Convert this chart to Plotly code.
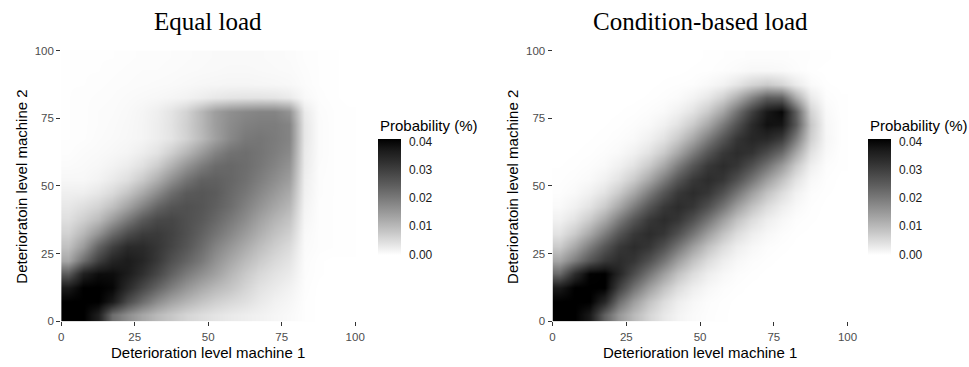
import plotly.graph_objects as go

# Grid cell centres (deterioration level, both machines)
levels = [2.5, 7.5, 12.5, 17.5, 22.5, 27.5, 32.5, 37.5, 42.5, 47.5,
          52.5, 57.5, 62.5, 67.5, 72.5, 77.5, 82.5, 87.5, 92.5, 97.5]
tick_vals = [0, 25, 50, 75, 100]
prob_ticks = [0.0, 0.01, 0.02, 0.03, 0.04]
prob_labels = ["0.00", "0.01", "0.02", "0.03", "0.04"]

# Probability (%), in units of 1e-3; each row is one level of machine 2 (bottom to top)
equal_load = [
    [41, 41, 36, 22, 17, 13, 10, 8, 6, 4.8, 3.8, 3, 2.4, 1.9, 1.3, 0.8, 0.2, 0, 0, 0],
    [41, 41, 41, 37, 28, 22, 17, 13.5, 10.8, 8.5, 6.8, 5.5, 4.4, 3, 1.9, 1.2, 0.2, 0, 0, 0],
    [37, 41, 41, 40, 34, 28.5, 23.5, 19.3, 15.5, 12.5, 10.2, 8.4, 6.1, 4.1, 2.9, 1.8, 0.3, 0, 0, 0],
    [25, 36, 39, 39, 36.8, 32.9, 28.6, 24, 19.9, 16.7, 13.9, 10.6, 7.8, 5.6, 4, 2.8, 0.4, 0.1, 0, 0],
    [13, 22, 30, 35, 36.8, 34.8, 31.2, 27, 23.6, 20.2, 16.3, 12.9, 9.9, 7.5, 5.4, 3.8, 0.5, 0.1, 0, 0],
    [9, 15, 23.8, 29.9, 33.9, 33.9, 31.6, 29, 26, 22.4, 18.6, 15.4, 12.3, 9.5, 7.1, 5.1, 0.7, 0.3, 0.2, 0.2],
    [6.5, 10.5, 16.1, 22.4, 27.6, 30.6, 31, 29.4, 27, 24, 21, 17.9, 14.7, 11.7, 8.9, 6.7, 0.9, 0.3, 0.2, 0.2],
    [4.5, 6.9, 9.8, 14.8, 20.2, 25.3, 28.4, 28.8, 27.1, 25.4, 23, 20.1, 17.1, 13.8, 10.9, 8.5, 1.3, 0.3, 0.2, 0.2],
    [3.3, 4.6, 6.3, 9.2, 13.6, 18.7, 23.5, 26.2, 27, 26.1, 24.3, 22, 18.9, 16, 13.1, 10.5, 1.6, 0.3, 0.2, 0.2],
    [2.2, 2.3, 3.4, 5.2, 8.3, 12.5, 17.4, 22, 25.2, 25.9, 25, 22.7, 20.5, 17.9, 15.2, 12.4, 2, 0.4, 0.2, 0.2],
    [1.1, 1.1, 1.7, 2.9, 4.5, 7.6, 11.8, 16.6, 21, 24, 24.2, 23.2, 21.6, 19.4, 17, 14.4, 2.3, 0.4, 0.2, 0.2],
    [0.6, 0.8, 1.1, 1.7, 2.6, 4.3, 7.2, 11.3, 15.9, 19.7, 22.4, 23, 22.1, 20.5, 18.5, 16.1, 2.8, 0.5, 0.2, 0.2],
    [0.3, 0.6, 0.8, 1.1, 1.5, 2.5, 4, 6.9, 10.6, 14.8, 18.7, 21.3, 21.9, 20.9, 19.4, 17.5, 3, 0.6, 0.2, 0.2],
    [0.2, 0.3, 0.6, 0.8, 1.1, 1.5, 2.5, 3.8, 6.4, 10, 14, 17.8, 20.2, 20.7, 19.8, 18.4, 3.4, 0.6, 0.2, 0.2],
    [0.2, 0.3, 0.5, 0.7, 1, 1.5, 2.5, 4, 6.7, 10.4, 14.4, 17.3, 19, 19.6, 19.6, 18.4, 3.4, 0.6, 0.2, 0.2],
    [0.2, 0.3, 0.5, 0.6, 0.9, 1.4, 2.3, 3.8, 6.3, 10.4, 14.4, 16.7, 17.8, 18.4, 18.4, 16.1, 2.9, 0.5, 0.2, 0.1],
    [0.2, 0.3, 0.4, 0.5, 0.7, 0.9, 1.1, 1.4, 1.8, 2.5, 3.2, 3.7, 3.9, 3.9, 3.7, 2.9, 0.9, 0.3, 0.1, 0],
    [0.2, 0.2, 0.3, 0.4, 0.5, 0.6, 0.7, 0.8, 1, 1.2, 1.3, 1.4, 1.4, 1.3, 1.2, 1, 0.5, 0.2, 0.1, 0],
    [0.1, 0.2, 0.2, 0.3, 0.4, 0.5, 0.5, 0.6, 0.7, 0.8, 0.9, 1, 1, 0.9, 0.8, 0.7, 0.4, 0.2, 0.1, 0],
    [0.1, 0.1, 0.2, 0.2, 0.3, 0.4, 0.4, 0.5, 0.6, 0.7, 0.8, 0.8, 0.8, 0.8, 0.7, 0.6, 0.3, 0.2, 0.1, 0],
]

condition_based_load = [
    [41, 41, 37, 24, 15.5, 10, 6, 3.2, 1.6, 0.7, 0.3, 0.1, 0, 0, 0, 0, 0, 0, 0, 0],
    [41, 41, 41, 34.4, 22.1, 14.4, 8.8, 4.9, 2.4, 1.1, 0.4, 0.15, 0, 0, 0, 0, 0, 0, 0, 0],
    [37, 41, 41, 41, 29.9, 21.2, 14.3, 8.8, 4.9, 2.4, 1.1, 0.4, 0.15, 0, 0, 0, 0, 0, 0, 0],
    [22.7, 33.4, 40.6, 41, 34.9, 27.7, 20.8, 14.3, 8.8, 4.9, 2.4, 1.1, 0.4, 0.15, 0, 0, 0, 0, 0, 0],
    [13.2, 19.5, 26, 31.3, 33.5, 31.8, 27, 20.8, 14.3, 8.8, 4.9, 2.4, 1.1, 0.4, 0.15, 0, 0, 0, 0, 0],
    [7.5, 12.8, 19.5, 26, 31.3, 33.5, 31.8, 27, 20.8, 14.3, 8.8, 4.9, 2.4, 1.1, 0.4, 0.15, 0, 0, 0, 0],
    [4, 7.5, 12.8, 19.5, 26, 31.3, 33.5, 31.8, 27, 20.8, 14.3, 8.8, 4.9, 2.4, 1.1, 0.4, 0.1, 0, 0, 0],
    [2, 4, 7.5, 12.8, 19.5, 26, 31.3, 33.5, 31.8, 27, 20.8, 14.3, 8.8, 4.9, 2.4, 1.1, 0.3, 0.1, 0, 0],
    [0.8, 2, 4, 7.5, 12.8, 19.5, 26, 31.3, 33.5, 31.8, 27, 20.8, 14.3, 8.8, 4.9, 2.4, 0.9, 0.2, 0, 0],
    [0.3, 0.8, 2, 4, 7.5, 12.8, 19.5, 26, 31.3, 33.5, 31.8, 27, 20.8, 14.3, 8.8, 4.9, 1.9, 0.4, 0.1, 0],
    [0.15, 0.4, 0.8, 2, 4, 7.5, 12.8, 19.5, 26, 31.3, 33.5, 31.8, 27, 20.8, 14.3, 8.9, 4, 1, 0.2, 0],
    [0.05, 0.15, 0.4, 0.8, 2, 4, 7.5, 12.8, 19.5, 26, 31.3, 33.5, 31.8, 27, 21.1, 14.8, 7.6, 2.2, 0.4, 0.1],
    [0, 0.05, 0.15, 0.4, 0.8, 2, 4, 7.5, 12.8, 19.5, 26, 31.3, 33.5, 32.3, 27.9, 22.5, 13.1, 4.2, 0.9, 0.1],
    [0, 0, 0.05, 0.15, 0.4, 0.8, 2, 4, 7.5, 12.8, 19.5, 26, 31.8, 34.6, 34.3, 30.9, 19.8, 6.8, 1.3, 0.2],
    [0, 0, 0, 0.05, 0.15, 0.4, 0.8, 2, 4, 7.5, 12.8, 19.8, 26.8, 33.8, 38.4, 37.8, 25.7, 8.1, 1.2, 0.2],
    [0, 0, 0, 0, 0.05, 0.15, 0.4, 0.8, 2, 4, 7.6, 13.2, 21.1, 29.8, 37.2, 39.9, 24.7, 6.3, 0.9, 0.1],
    [0, 0, 0, 0, 0, 0, 0.1, 0.3, 0.6, 1.6, 3.3, 6.5, 11.7, 18.6, 24.8, 24.3, 12.4, 3, 0.4, 0.1],
    [0, 0, 0, 0, 0, 0, 0, 0.1, 0.2, 0.3, 0.9, 1.8, 3.6, 6.1, 7.6, 6, 2.9, 0.7, 0.1, 0],
    [0, 0, 0, 0, 0, 0, 0, 0, 0, 0.1, 0.15, 0.35, 0.65, 1.1, 1.1, 0.9, 0.45, 0.1, 0, 0],
    [0, 0, 0, 0, 0, 0, 0, 0, 0, 0, 0.1, 0.2, 0.3, 0.4, 0.4, 0.4, 0.3, 0.2, 0.1, 0],
]

W, H = 969, 367
SANS = "Liberation Sans, Arial, sans-serif"
SERIF = "Liberation Serif, Times New Roman, serif"


def lab_gray(lightness):
    """sRGB grey for a CIELAB lightness value (white-to-black Lab gradient)."""
    fy = (lightness + 16) / 116
    y = fy ** 3 if fy ** 3 > 0.008856 else lightness / 903.3
    c = 1.055 * y ** (1 / 2.4) - 0.055 if y > 0.0031308 else 12.92 * y
    g = max(0, min(255, round(255 * c)))
    return f"rgb({g},{g},{g})"


grey_scale = [[k / 10, lab_gray(100 * (1 - k / 10))] for k in range(11)]


def px_x(p):
    return p / W


def px_y(p):
    return (H - p) / H


def to_prob(rows):
    return [[v / 1000 for v in row] for row in rows]


def heat(rows, xa, ya, bar_left):
    return go.Heatmap(
        x=levels, y=levels, z=to_prob(rows), xaxis=xa, yaxis=ya,
        zmin=0, zmax=0.041, zsmooth="best", colorscale=grey_scale,
        hoverinfo="skip",
        colorbar=dict(
            x=px_x(bar_left), xanchor="left", xpad=0,
            y=px_y(197), yanchor="middle", ypad=0,
            len=116, lenmode="pixels", thickness=23, thicknessmode="pixels",
            outlinewidth=0, tickvals=prob_ticks, ticktext=prob_labels,
            ticks="outside", ticklen=6, tickcolor="rgba(0,0,0,0)",
            tickfont=dict(family=SANS, size=12, color="#1a1a1a"),
        ),
    )


fig = go.Figure([
    heat(equal_load, "x", "y", 380),
    heat(condition_based_load, "x2", "y2", 877),
])

axis_style = dict(
    range=[0, 100], tickvals=tick_vals, ticks="outside", ticklen=4,
    tickwidth=1, tickcolor="#333333", showgrid=False, zeroline=False,
    showline=False, tickfont=dict(family=SANS, size=11.5, color="#4d4d4d"),
)

fig.update_layout(
    width=W, height=H, margin=dict(l=0, r=0, t=0, b=0),
    paper_bgcolor="white", plot_bgcolor="white", showlegend=False,
    xaxis=dict(domain=[px_x(59), px_x(357)], anchor="y", ticklabelstandoff=1, **axis_style),
    yaxis=dict(domain=[px_y(326), px_y(46)], anchor="x", **axis_style),
    xaxis2=dict(domain=[px_x(557), px_x(856)], anchor="y2", ticklabelstandoff=1, **axis_style),
    yaxis2=dict(domain=[px_y(326), px_y(46)], anchor="x2", **axis_style),
)

notes = []
for left, right, title, bar_left in [(59, 357, "Equal load", 380),
                                     (557, 856, "Condition-based load", 877)]:
    mid = (left + right) / 2
    notes.append(dict(x=px_x(mid), y=px_y(16), text=title,
                      font=dict(family=SERIF, size=25, color="black")))
    notes.append(dict(x=px_x(mid), y=px_y(358), text="Deterioration level machine 1",
                      font=dict(family=SANS, size=15, color="black")))
    notes.append(dict(x=px_x(left - 40), y=px_y(187), text="Deterioratoin level machine 2",
                      textangle=-90, font=dict(family=SANS, size=15, color="black")))
    notes.append(dict(x=px_x(bar_left), y=px_y(124), text="Probability (%)",
                      xanchor="left", font=dict(family=SANS, size=15, color="black")))

for a in notes:
    a.setdefault("xanchor", "center")
    fig.add_annotation(xref="paper", yref="paper", yanchor="middle",
                       showarrow=False, **a)

fig.write_html("out.html")
